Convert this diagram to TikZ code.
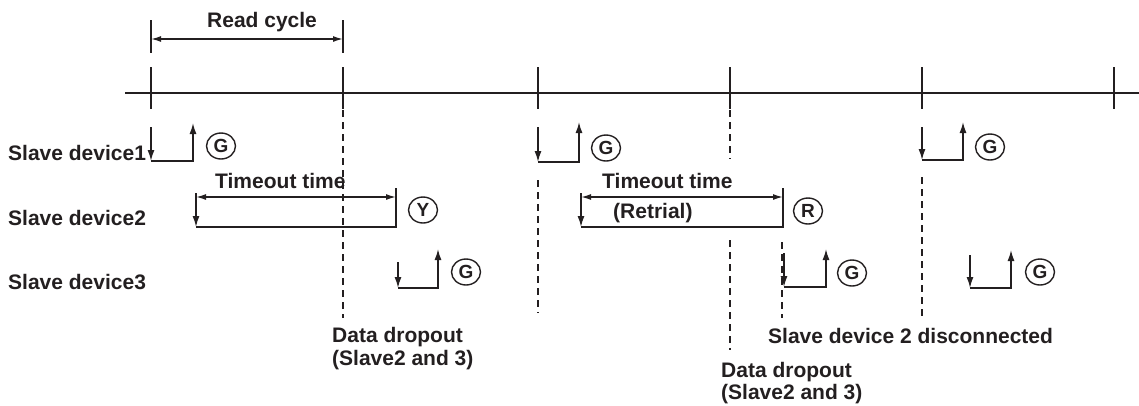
\documentclass[tikz,border=0pt]{standalone}
\usepackage{fontspec}
\setmainfont{Liberation Sans}
\usetikzlibrary{arrows.meta,shapes.geometric}
\definecolor{ink}{RGB}{35,31,32}
\newcommand\mypulse[6]{%
  \coordinate (#1a) at (#2,#3);
  \coordinate (#1b) at (#2,#4);
  \coordinate (#1c) at (#5,#4);
  \coordinate (#1d) at (#5,#6);
  \draw[arr] (#1a) -- (#1b);
  \draw[arr] (#1b) -- (#1c) -- (#1d);}
\newcommand\mytimeout[3]{%
  \coordinate (#1a) at (#2,193);
  \coordinate (#1b) at (#2,227);
  \coordinate (#1c) at (#3,227);
  \coordinate (#1d) at (#3,188);
  \coordinate (#1e) at (#2,197);
  \coordinate (#1f) at (#3,197);
  \draw[arr] (#1a) -- (#1b);
  \draw[thin] (#1b) -- (#1c) -- (#1d);
  \draw[dim] (#1e) -- (#1f);}
\newcommand\mydash[3]{%
  \coordinate (#1a) at (#2);
  \coordinate (#1b) at (#3);
  \draw[dashln] (#1a) -- (#1b);}
\begin{document}
\begin{tikzpicture}[x=1pt,y=-1pt,
  txt/.style={font=\bfseries\fontsize{21}{24}\selectfont, text=ink, inner sep=0pt, anchor=base west},
  thin/.style={draw=ink, line width=1.5pt},
  thickln/.style={draw=ink, line width=2.9pt},
  arr/.style={thin, -{Latex[length=11pt,width=7pt]}},
  dim/.style={thin, {Latex[length=10pt,width=6pt]}-{Latex[length=10pt,width=6pt]}},
  dashln/.style={draw=ink, line width=1.4pt, dash pattern=on 7pt off 5pt},
  lamp/.style={ellipse, draw=ink, line width=1.4pt, minimum width=29pt, minimum height=26pt, inner sep=0pt, font=\bfseries\fontsize{19}{19}\selectfont, text=ink}
]
\useasboundingbox (0,0) rectangle (1139,405);

% time line
\coordinate (tl0) at (125,93);
\coordinate (tl1) at (1139,93);
\draw[thickln] (tl0) -- (tl1);
\foreach \i/\x in {1/151,2/343,3/538,4/730,5/922,6/1114}{
  \coordinate (tk\i a) at (\x,67);
  \coordinate (tk\i b) at (\x,109);
  \draw[thickln] (tk\i a) -- (tk\i b);
}

% read cycle
\coordinate (rc1a) at (151,20);
\coordinate (rc1b) at (151,53);
\coordinate (rc2a) at (343,20);
\coordinate (rc2b) at (343,53);
\coordinate (rc1m) at (151,39);
\coordinate (rc2m) at (343,39);
\draw[thin] (rc1a) -- (rc1b);
\draw[thin] (rc2a) -- (rc2b);
\draw[dim] (rc1m) -- (rc2m);
\node[txt] (readcycle) at (207,27) {Read cycle};

% row labels
\node[txt] (sd1) at (8,160) {Slave device1};
\node[txt] (sd2) at (8,225) {Slave device2};
\node[txt] (sd3) at (8,289) {Slave device3};

% dashed guide lines
\mydash{da}{343,110}{343,318}
\mydash{db}{538,180}{538,313}
\mydash{dc}{730,110}{730,159}
\mydash{dd}{730,240}{730,350}
\mydash{de}{782,242}{782,318}
\mydash{df}{922,177}{922,318}

% slave device 1
\mypulse{pa}{151}{127}{161}{193}{123}
\mypulse{pb}{538}{127}{162}{579}{122}
\mypulse{pc}{922}{127}{160}{963}{122}
\node[lamp] (ga) at (221,146) {G};
\node[lamp] (gb) at (606,148) {G};
\node[lamp] (gc) at (990,147) {G};

% slave device 2
\mytimeout{ta}{196}{396}
\mytimeout{tb}{581}{783}
\node[txt] (toa) at (215,188) {Timeout time};
\node[txt] (tob) at (602,188) {Timeout time};
\node[txt] (retrial) at (613,218) {(Retrial)};
\node[lamp] (ly) at (423,210) {Y};
\node[lamp] (lr) at (808,211) {R};

% slave device 3
\mypulse{qa}{398}{262}{288}{438}{249}
\mypulse{qb}{784}{253}{287}{826}{249}
\mypulse{qc}{970}{255}{288}{1011}{250}
\node[lamp] (gd) at (466,272) {G};
\node[lamp] (ge) at (852,273) {G};
\node[lamp] (gf) at (1040,272) {G};

% bottom notes
\node[txt] (dda) at (332,342) {Data dropout};
\node[txt] (ddb) at (332,365) {(Slave2 and 3)};
\node[txt] (disc) at (768,343) {Slave device 2 disconnected};
\node[txt] (ddc) at (721,377) {Data dropout};
\node[txt] (ddd) at (721,399) {(Slave2 and 3)};
\end{tikzpicture}
\end{document}
